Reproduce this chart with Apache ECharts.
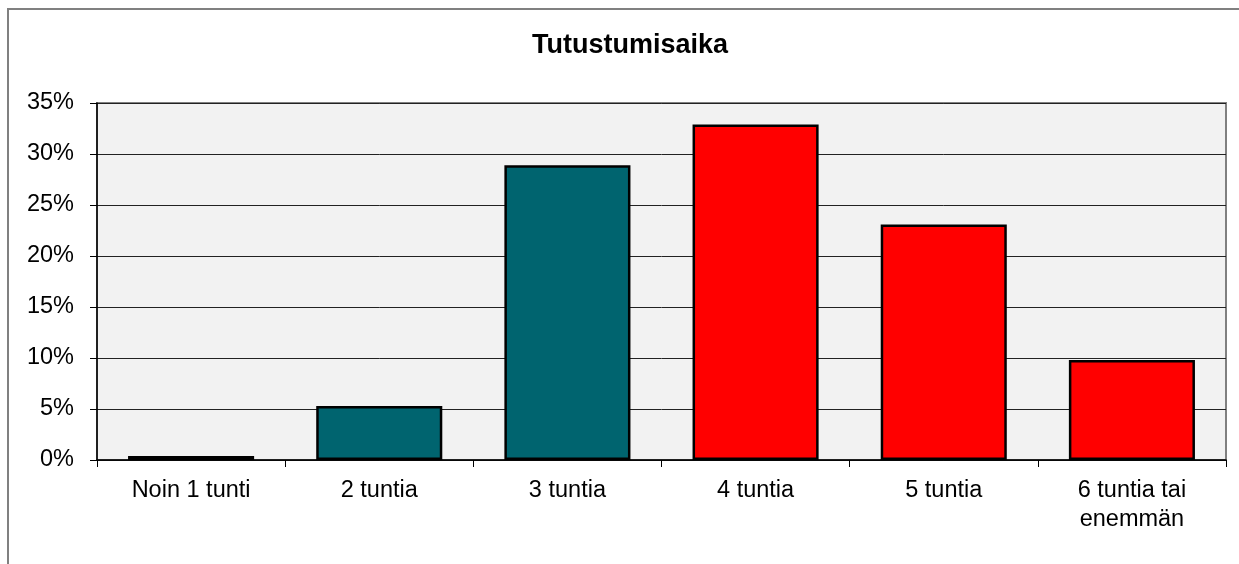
<!DOCTYPE html>
<html>
<head>
<meta charset="utf-8">
<script src="https://cdn.jsdelivr.net/npm/echarts@6/dist/echarts.min.js"></script>
<style>
  html, body { margin: 0; padding: 0; background: #fff; }
  #chart { width: 1239px; height: 564px; }
</style>
</head>
<body>
<div id="chart"></div>
<script>
// data
const categories = ["Noin 1 tunti", "2 tuntia", "3 tuntia", "4 tuntia", "5 tuntia", "6 tuntia tai\nenemmän"];
const shares = [0.4, 5.3, 28.9, 32.9, 23.1, 9.8];

const teal = "#00646f";
const red = "#ff0000";

const chart = echarts.init(document.getElementById("chart"));

const option = {
  animation: false,
  title: {
    text: "Tutustumisaika",
    left: 527,
    top: 27,
    textStyle: {
      fontFamily: "Liberation Sans",
      fontSize: 27,
      fontWeight: "bold",
      color: "#000",
    },
  },
  graphic: [
    {
      type: "polyline",
      shape: { points: [[8, 564], [8, 9], [1239, 9]] },
      style: { stroke: "#808080", lineWidth: 2, fill: null },
    },
  ],
  grid: {
    left: 97,
    right: 13,
    top: 103,
    bottom: 104,
    show: true,
    backgroundColor: "#f2f2f2",
    borderColor: "#808080",
    borderWidth: 2,
  },
  xAxis: {
    type: "category",
    data: categories,
    boundaryGap: true,
    axisLine: { lineStyle: { color: "#000", width: 1.5 } },
    axisTick: { show: true, length: 7, lineStyle: { color: "#000" } },
    axisLabel: {
      fontFamily: "Liberation Sans",
      fontSize: 23.5,
      color: "#000",
      margin: 16,
      lineHeight: 29,
      interval: 0,
    },
  },
  yAxis: {
    type: "value",
    min: 0,
    max: 35,
    interval: 5,
    axisLine: { show: true, lineStyle: { color: "#000", width: 1.5 } },
    axisTick: { show: true, length: 7, lineStyle: { color: "#000" } },
    axisLabel: {
      formatter: "{value}%",
      fontFamily: "Liberation Sans",
      fontSize: 23.5,
      color: "#000",
      margin: 23,
    },
    splitLine: { lineStyle: { color: "#222", width: 1 } },
  },
  series: [
    {
      type: "bar",
      barWidth: "67%",
      data: shares.map((v, i) => ({
        value: v,
        itemStyle: { color: i < 3 ? teal : red },
      })),
      itemStyle: { borderColor: "#000", borderWidth: 2.5 },
    },
  ],
};

chart.setOption(option);
</script>
</body>
</html>
